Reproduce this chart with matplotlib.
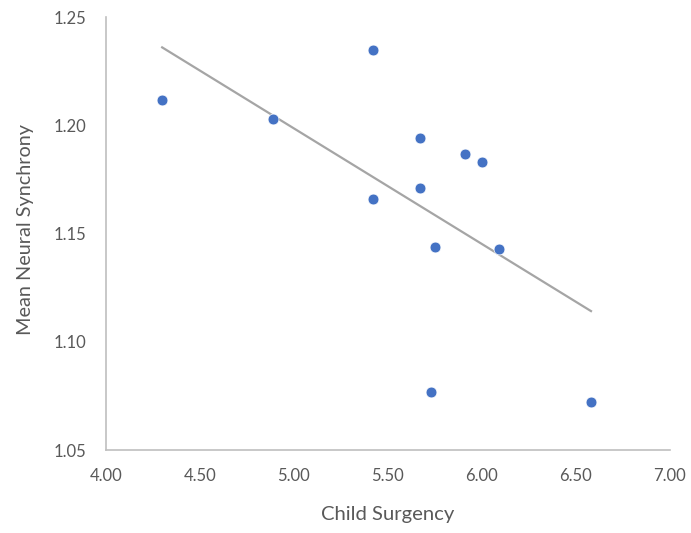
import numpy as np
import matplotlib
matplotlib.use("Agg")
import matplotlib.pyplot as plt
from matplotlib.ticker import FormatStrFormatter

# Child surgency score vs. mean neural synchrony, one point per child
surgency = [4.30, 4.89, 5.42, 5.67, 5.91, 6.00, 5.67, 5.42, 5.75, 6.09, 5.73, 6.58]
synchrony = [1.212, 1.203, 1.235, 1.194, 1.187, 1.183, 1.171, 1.166, 1.144, 1.143, 1.077, 1.072]

x_ticks = [4.0, 4.5, 5.0, 5.5, 6.0, 6.5, 7.0]
y_ticks = [1.05, 1.10, 1.15, 1.20, 1.25]

plt.rcParams['font.family'] = ['Lato', 'DejaVu Sans']

fig = plt.figure(figsize=(6.91, 5.33), dpi=100)
ax = fig.add_axes([0.153, 0.1557, 0.8166, 0.8118])

x = np.array(surgency)
y = np.array(synchrony)

# linear trendline across the data range
slope, intercept = np.polyfit(x, y, 1)
xs = np.array([x.min(), x.max()])
ax.plot(xs, slope * xs + intercept, color='#a5a5a5', linewidth=1.6, zorder=2)

ax.plot(x, y, linestyle='none', marker='o', markersize=7.8,
        markerfacecolor='#4472c4', markeredgecolor='white',
        markeredgewidth=0.5, zorder=3)

ax.set_xlim(4.0, 7.0)
ax.set_ylim(1.05, 1.25)
ax.set_xticks(x_ticks)
ax.set_yticks(y_ticks)
ax.xaxis.set_major_formatter(FormatStrFormatter('%.2f'))
ax.yaxis.set_major_formatter(FormatStrFormatter('%.2f'))
ax.tick_params(length=0, labelsize=12, labelcolor='#595959')
ax.tick_params(axis='x', pad=13)
ax.tick_params(axis='y', pad=14)

for side in ('top', 'right'):
    ax.spines[side].set_visible(False)
for side in ('left', 'bottom'):
    ax.spines[side].set_color('#bfbfbf')
    ax.spines[side].set_linewidth(1.2)

ax.set_xlabel('Child Surgency', fontsize=14.6, color='#595959', labelpad=16)
ax.set_ylabel('Mean Neural Synchrony', fontsize=14.3, color='#595959')
ax.yaxis.set_label_coords(-0.127, 0.51)

fig.savefig('out.png', dpi=100)
